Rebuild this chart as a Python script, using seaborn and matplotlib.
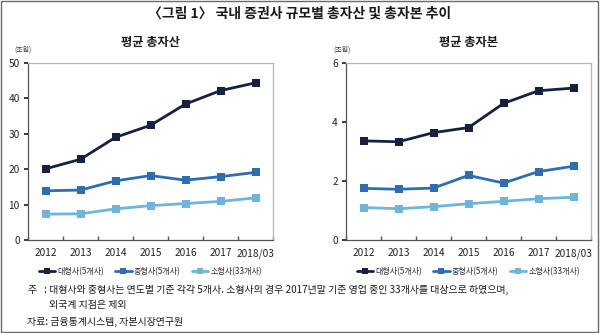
import matplotlib
matplotlib.use("Agg")
import matplotlib.pyplot as plt
from matplotlib.patches import Rectangle
from matplotlib.lines import Line2D
from matplotlib.ticker import FixedLocator
import seaborn as sns
import pandas as pd

sns.set_theme(style="white")
plt.rcParams['font.family'] = ['Noto Sans CJK KR', 'DejaVu Sans']

years = ["2012", "2013", "2014", "2015", "2016", "2017", "2018/03"]
groups = ["대형사(5개사)", "중형사(5개사)", "소형사(33개사)"]

assets_large = [20.1, 22.8, 29.0, 32.4, 38.4, 42.2, 44.4]
assets_mid = [13.9, 14.1, 16.7, 18.2, 16.9, 17.9, 19.1]
assets_small = [7.3, 7.4, 8.8, 9.7, 10.3, 10.9, 11.9]

capital_large = [3.36, 3.33, 3.64, 3.81, 4.63, 5.06, 5.15]
capital_mid = [1.75, 1.72, 1.76, 2.19, 1.93, 2.32, 2.50]
capital_small = [1.10, 1.06, 1.13, 1.23, 1.31, 1.40, 1.45]

colors = ["#15213f", "#2f6db3", "#6db5da"]


def to_long(series):
    rows = []
    for g, vals in zip(groups, series):
        for y, v in zip(years, vals):
            rows.append({"year": y, "group": g, "value": v})
    return pd.DataFrame(rows)


fig = plt.figure(figsize=(6.0, 3.33), dpi=100)
W, H = 600, 333


def px_axes(x0, y0, x1, y1):
    return fig.add_axes([x0 / W, 1 - y1 / H, (x1 - x0) / W, (y1 - y0) / H])


fig.patches.append(Rectangle((0.002, 0.003), 0.994, 0.994, transform=fig.transFigure,
                             fill=False, edgecolor="#6a6a6a", linewidth=1.0))

fig.text(0.5, 1 - 14 / H, "〈그림 1〉 국내 증권사 규모별 총자산 및 총자본 추이",
         ha="center", va="center", fontsize=10, fontweight="bold", color="#1a1a1a")

panels = [
    (px_axes(28, 63, 273, 240), [assets_large, assets_mid, assets_small],
     "평균 총자산", [0, 10, 20, 30, 40, 50], 50, 14),
    (px_axes(346, 63, 591, 240), [capital_large, capital_mid, capital_small],
     "평균 총자본", [0, 2, 4, 6], 6, 333),
]

for ax, series, title, yticks, ymax, unit_x in panels:
    df = to_long(series)
    sns.lineplot(data=df, x="year", y="value", hue="group", palette=colors,
                 marker="s", markersize=5.5, markeredgewidth=0, linewidth=2.0,
                 ax=ax, legend=False, sort=False)
    ax.set_xlim(-0.5, len(years) - 0.5)
    ax.set_ylim(0, ymax)
    ax.set_yticks(yticks)
    ax.set_xticks(range(len(years)))
    ax.set_xticklabels(years)
    ax.xaxis.set_minor_locator(FixedLocator([i + 0.5 for i in range(-1, len(years))]))
    ax.tick_params(axis="x", which="major", length=0, labelsize=7.3, pad=6, colors="#222222")
    ax.tick_params(axis="x", which="minor", length=3, direction="in", color="#555555",
                   bottom=True)
    ax.tick_params(axis="y", length=3, direction="out", labelsize=7.3, pad=3,
                   colors="#222222", left=True)
    ax.set_xlabel("")
    ax.set_ylabel("")
    for side in ["left", "bottom"]:
        ax.spines[side].set_color("#555555")
        ax.spines[side].set_linewidth(0.9)
    for side in ["top", "right"]:
        ax.spines[side].set_color("#b5b5b5")
        ax.spines[side].set_linewidth(0.9)
    ax.set_title(title, fontsize=8.8, fontweight="bold", color="#1a1a1a", pad=12)
    ax.text(unit_x / W, 1 - 50 / H, "(조원)", transform=fig.transFigure,
            fontsize=5, ha="left", va="center", color="#333333")

    handles = [Line2D([], [], color=c, marker="s", markersize=4.5, linewidth=2.0,
                      markeredgewidth=0) for c in colors]
    ax.legend(handles, groups, loc="upper center", bbox_to_anchor=(0.5, -0.11),
              ncol=3, frameon=False, fontsize=5.8, handlelength=2.0,
              handletextpad=0.3, columnspacing=1.4)

fs = 7.2
fig.text(27 / W, 1 - 290 / H, "주", fontsize=fs, va="center", color="#1a1a1a")
fig.text(44 / W, 1 - 290 / H,
         ": 대형사와 중형사는 연도별 기준 각각 5개사. 소형사의 경우 2017년말 기준 영업 중인 33개사를 대상으로 하였으며,",
         fontsize=fs, va="center", color="#1a1a1a")
fig.text(49 / W, 1 - 305 / H, "외국계 지점은 제외", fontsize=fs, va="center",
         color="#1a1a1a")
fig.text(27 / W, 1 - 322 / H, "자료: 금융통계시스템, 자본시장연구원", fontsize=fs,
         va="center", color="#1a1a1a")

fig.savefig("out.png", dpi=100)
